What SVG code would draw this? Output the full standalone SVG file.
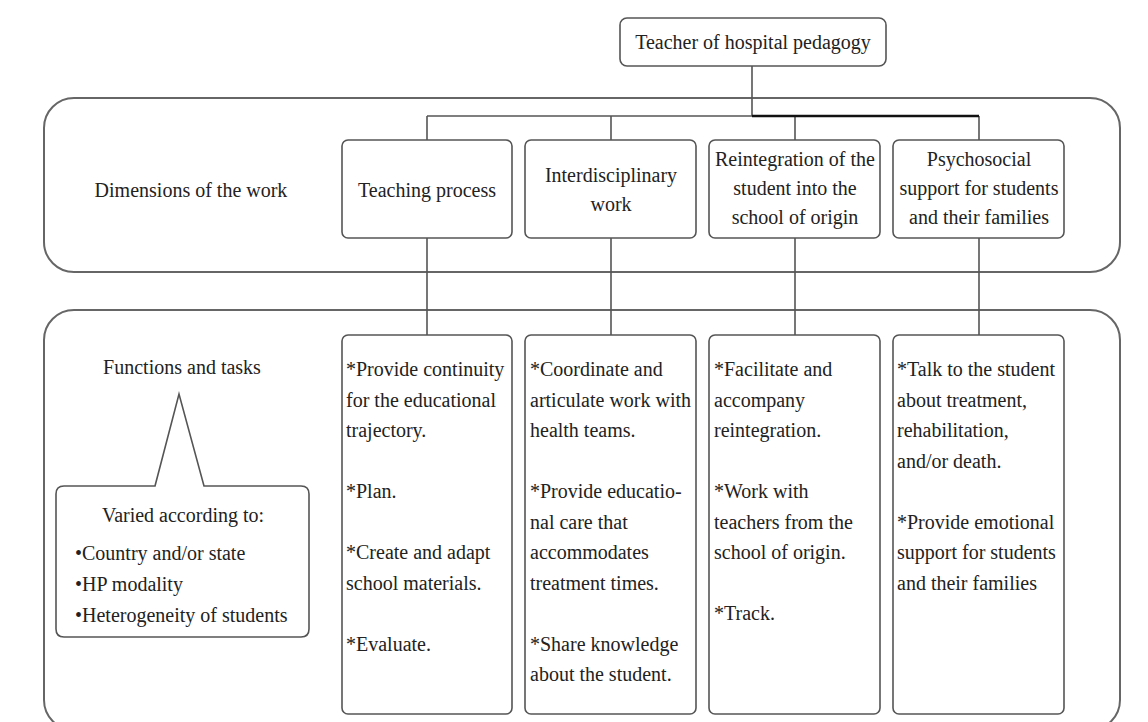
<svg xmlns="http://www.w3.org/2000/svg" width="1148" height="722" viewBox="0 0 1148 722">
<style>
text{font-family:"Liberation Serif","Times New Roman",serif;font-size:20px;fill:#222}
.c{text-anchor:middle}
.box{fill:#fff;stroke:#555;stroke-width:1.6}
.cont{fill:#fff;stroke:#666;stroke-width:2}
.ln{stroke:#555;stroke-width:1.6;fill:none}
</style>
<rect width="1148" height="722" fill="#fff"/>
<g id="container-dimensions"><rect class="cont" x="44" y="98" width="1076" height="174" rx="30"/></g>
<g id="container-functions"><rect class="cont" x="44" y="310" width="1076" height="420" rx="30"/></g>
<g id="connectors">
<path class="ln" d="M752,66V116M427,116H752M427,116V140M611,116V140M795,116V140M979,116V140"/>
<path d="M752,116H979" stroke="#111" stroke-width="2.6" fill="none"/>
<path class="ln" d="M427,238V335M611,238V335M795,238V335M979,238V335"/>
</g>
<g id="teacher"><rect class="box" x="620" y="18" width="266" height="48" rx="7"/><text class="c" x="753" y="49">Teacher of hospital pedagogy</text></g>
<g id="dimensions-label"><text class="c" x="191" y="197">Dimensions of the work</text></g>
<g id="dim-teaching"><rect class="box" x="342" y="140" width="170" height="98" rx="6"/><text class="c" x="427" y="197">Teaching process</text></g>
<g id="dim-interdisciplinary"><rect class="box" x="525" y="140" width="171" height="98" rx="6"/><text class="c" x="611" y="182">Interdisciplinary</text><text class="c" x="611" y="211">work</text></g>
<g id="dim-reintegration"><rect class="box" x="709" y="140" width="171" height="98" rx="6"/><text class="c" x="795" y="166">Reintegration of the</text><text class="c" x="795" y="195">student into the</text><text class="c" x="795" y="224">school of origin</text></g>
<g id="dim-psychosocial"><rect class="box" x="893" y="140" width="171" height="98" rx="6"/><text class="c" x="979" y="166">Psychosocial</text><text class="c" x="979" y="195">support for students</text><text class="c" x="979" y="224">and their families</text></g>
<g id="functions-label"><text class="c" x="182" y="374">Functions and tasks</text></g>
<g id="varied-callout">
<path class="box" d="M155,486L179,394L204,486H301Q309,486 309,494V629Q309,637 301,637H64Q56,637 56,629V494Q56,486 64,486Z"/>
<text class="c" x="183" y="522">Varied according to:</text>
<text x="75" y="560">•Country and/or state</text>
<text x="75" y="591">•HP modality</text>
<text x="75" y="622">•Heterogeneity of students</text>
</g>
<g id="fn-teaching"><rect class="box" x="342" y="335" width="170" height="379" rx="6"/>
<text x="346" y="376">*Provide continuity</text><text x="346" y="406.5">for the educational</text><text x="346" y="437">trajectory.</text>
<text x="346" y="498">*Plan.</text><text x="346" y="559">*Create and adapt</text><text x="346" y="589.5">school materials.</text><text x="346" y="650.5">*Evaluate.</text></g>
<g id="fn-interdisciplinary"><rect class="box" x="525" y="335" width="171" height="379" rx="6"/>
<text x="530" y="376">*Coordinate and</text><text x="530" y="406.5">articulate work with</text><text x="530" y="437">health teams.</text>
<text x="530" y="498">*Provide educatio-</text><text x="530" y="528.5">nal care that</text><text x="530" y="559">accommodates</text><text x="530" y="589.5">treatment times.</text>
<text x="530" y="650.5">*Share knowledge</text><text x="530" y="681">about the student.</text></g>
<g id="fn-reintegration"><rect class="box" x="709" y="335" width="171" height="379" rx="6"/>
<text x="714" y="376">*Facilitate and</text><text x="714" y="406.5">accompany</text><text x="714" y="437">reintegration.</text>
<text x="714" y="498">*Work with</text><text x="714" y="528.5">teachers from the</text><text x="714" y="559">school of origin.</text>
<text x="714" y="620">*Track.</text></g>
<g id="fn-psychosocial"><rect class="box" x="893" y="335" width="171" height="379" rx="6"/>
<text x="897" y="376">*Talk to the student</text><text x="897" y="406.5">about treatment,</text><text x="897" y="437">rehabilitation,</text><text x="897" y="467.5">and/or death.</text>
<text x="897" y="528.5">*Provide emotional</text><text x="897" y="559">support for students</text><text x="897" y="589.5">and their families</text></g>
</svg>
